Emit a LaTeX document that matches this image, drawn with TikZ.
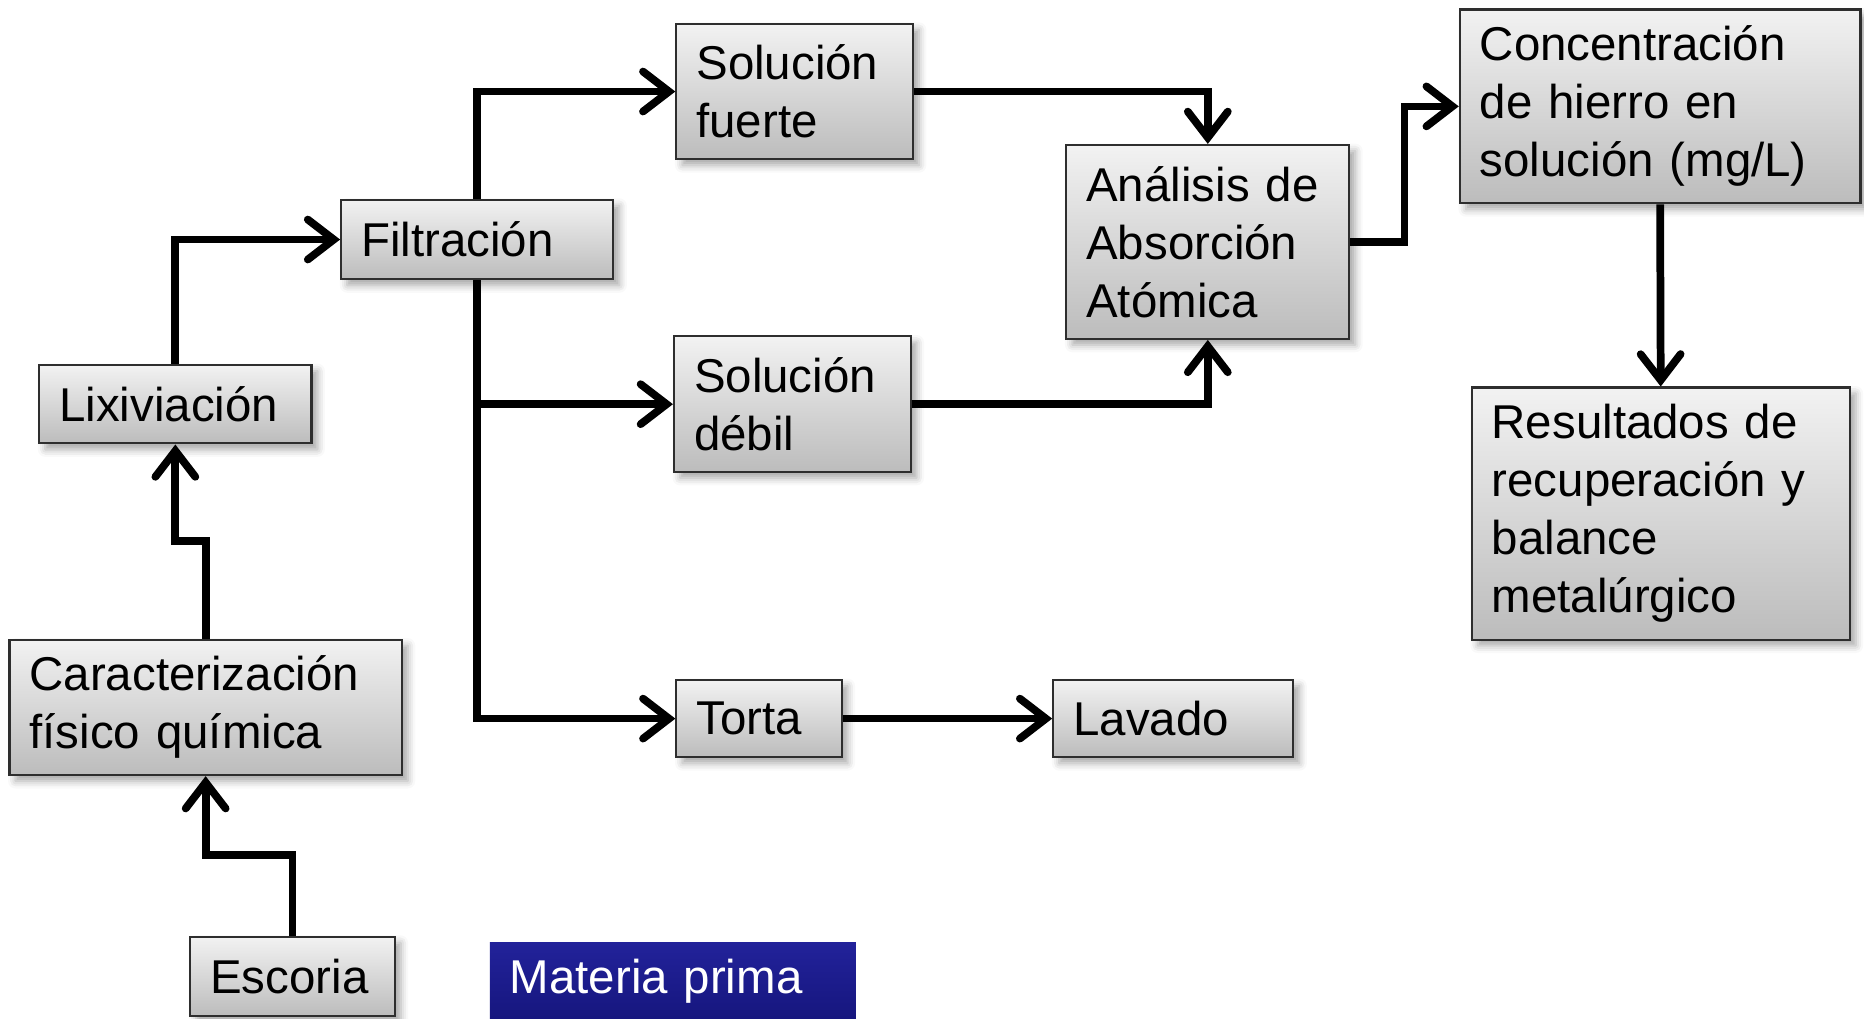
\documentclass[tikz,border=0pt]{standalone}
\usepackage{fontspec}
\setmainfont{Liberation Sans}
\usepackage{xcolor}
\definecolor{bxtop}{HTML}{F2F2F2}
\definecolor{bxbot}{HTML}{BCBCBC}
\definecolor{bxline}{HTML}{2E2E2E}
\definecolor{mptop}{HTML}{22229A}
\definecolor{mpbot}{HTML}{16167E}
\usepackage{tikz}
\usetikzlibrary{arrows.meta,positioning,calc,shadows.blur}

\begin{document}
\begin{tikzpicture}[x=0.011888cm,y=-0.011888cm,
  box/.style={rectangle,draw=bxline,line width=0.6pt,top color=bxtop,bottom color=bxbot,
              blur shadow={shadow xshift=0.6mm,shadow yshift=-0.6mm,shadow blur steps=4,shadow opacity=35},
              align=left,inner xsep=0.2cm,inner ysep=0pt,font=\fontsize{13.5}{16.5}\selectfont},
  tag/.style={rectangle,top color=mptop,bottom color=mpbot,text=white,
              align=left,inner xsep=0.2cm,inner ysep=0pt,font=\fontsize{13.5}{16.5}\selectfont},
  flow/.style={-{Straight Barb[length=2.6mm,width=4mm,line cap=round]},line width=2.2pt}]
\useasboundingbox (0,0) rectangle (1568,857);
% process boxes
\node[box,text width=1.645cm,minimum height=0.796cm] (esc) at (246,821.5) {Escoria};
\node[box,text width=3.523cm,minimum height=1.355cm] (car) at (173,595) {Caracterización\\físico química};
\node[box,text width=2.322cm,minimum height=0.785cm] (lix) at (147.5,340) {Lixiviación};
\node[box,text width=2.322cm,minimum height=0.796cm] (fil) at (401.5,201.5) {Filtración};
\node[box,text width=1.966cm,minimum height=1.355cm] (solf) at (668.5,77) {Solución\\fuerte};
\node[box,text width=1.966cm,minimum height=1.355cm] (sold) at (666.5,340) {Solución\\débil};
\node[box,text width=1.252cm,minimum height=0.773cm] (tor) at (638.5,604.5) {Torta};
\node[box,text width=2.001cm,minimum height=0.773cm] (lav) at (987,604.5) {Lavado};
\node[box,text width=2.429cm,minimum height=1.938cm] (aaa) at (1016,203.5) {Análisis de\\Absorción\\Atómica};
\node[box,text width=3.606cm,minimum height=1.938cm] (conc) at (1396.5,89.5) {Concentración\\de hierro en\\solución (mg/L)};
\node[box,text width=3.380cm,minimum height=2.520cm] (res) at (1397,432) {Resultados de\\recuperación y\\balance\\metalúrgico};
\node[tag,text width=3.261cm,minimum height=0.761cm] (mat) at (566,825) {Materia prima};
% connectors
\draw[flow] (esc.north) |- (car.south |- 0,719) -- (car.south);
\draw[flow] (car.north) |- (lix.south |- 0,455) -- (lix.south);
\draw[flow] (lix.north) |- (fil.west);
\draw[flow] (fil.north) |- (solf.west);
\draw[flow] (fil.south) |- (sold.west);
\draw[flow] (fil.south) |- (tor.west);
\draw[flow] (tor) -- (lav);
\draw[flow] (solf.east) -| (aaa.north);
\draw[flow] (sold.east) -| (aaa.south);
\draw[flow] (aaa.east) -| ($(aaa.east)!0.5!(conc.west)$) |- (conc.west);
\draw[flow] (conc.south) -- (res.north);
\end{tikzpicture}
\end{document}
